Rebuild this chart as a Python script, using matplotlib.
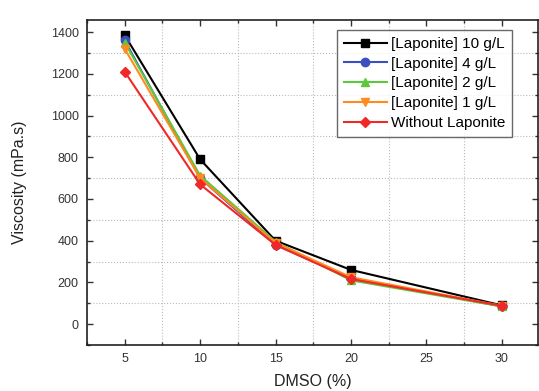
import numpy as np
import matplotlib
matplotlib.use("Agg")
import matplotlib.pyplot as plt
from matplotlib.ticker import MultipleLocator

plt.rcParams['font.family'] = ['Liberation Sans', 'DejaVu Sans']

dmso = [5, 10, 15, 20, 30]
lap10 = [1385, 790, 400, 260, 90]
lap4 = [1360, 700, 380, 220, 85]
lap2 = [1350, 712, 395, 210, 85]
lap1 = [1320, 700, 390, 225, 88]
no_lap = [1210, 670, 380, 216, 88]

series = [
    ("[Laponite] 10 g/L", lap10, "#000000", "s"),
    ("[Laponite] 4 g/L", lap4, "#3a4fc0", "o"),
    ("[Laponite] 2 g/L", lap2, "#5cc83a", "^"),
    ("[Laponite] 1 g/L", lap1, "#ff8a1e", "v"),
    ("Without Laponite", no_lap, "#f02828", "D"),
]

fig = plt.figure(figsize=(5.39, 3.91), dpi=100)
ax = fig.add_axes([87/539, 1 - 345/391, (538-87)/539, (345-20)/391])

for label, vals, color, marker in series:
    ms = 6 if marker != "D" else 5.5
    ax.plot(dmso, vals, color=color, marker=marker, markersize=ms,
            linewidth=1.5, label=label)

ax.set_xlim(2.5, 32.4)
ax.set_ylim(-100, 1458)
ax.xaxis.set_major_locator(MultipleLocator(5))
ax.xaxis.set_minor_locator(MultipleLocator(2.5))
ax.yaxis.set_major_locator(MultipleLocator(200))
ax.yaxis.set_minor_locator(MultipleLocator(100))
ax.tick_params(which='both', direction='in', top=True, right=True,
               labelsize=9, colors='#333333')
ax.tick_params(which='major', length=4, width=1, pad=6)
ax.tick_params(which='minor', length=2.5, width=1)
ax.grid(True, which='minor', linestyle=':', color='#bbbbbb', linewidth=0.8)
for s in ax.spines.values():
    s.set_linewidth(1.2)
    s.set_color('#222222')

ax.set_xlabel("DMSO (%)", fontsize=11.5, color='#222222', labelpad=6)
ax.set_ylabel("Viscosity (mPa.s)", fontsize=11.5, color='#222222', labelpad=17)

leg = ax.legend(loc='upper left', bbox_to_anchor=((337-87)/451, 1 - 10/325),
                fontsize=11, frameon=True, fancybox=False, handlelength=2.8,
                borderpad=0.45, labelspacing=0.38, handletextpad=0.3,
                borderaxespad=0)
leg.get_frame().set_edgecolor('#444444')
leg.get_frame().set_linewidth(1)

fig.savefig("out.png", dpi=100)
